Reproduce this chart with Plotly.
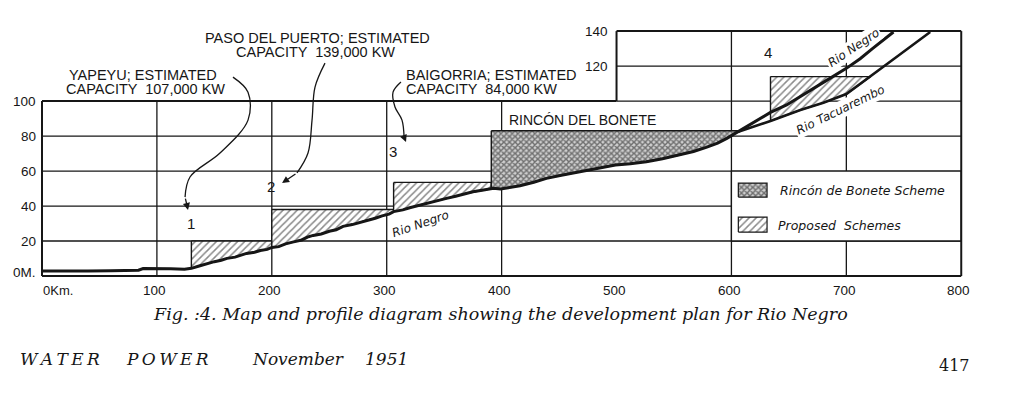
import numpy as np
import plotly.graph_objects as go

# ---------------- data ----------------
# Rio Negro longitudinal profile (distance in km, elevation in m)
negro_km = [0, 20, 40, 60, 84, 88, 100, 112, 124, 130, 136, 143, 150, 156, 161, 168, 173, 178, 185,
            190, 196, 200, 206, 212, 219, 226, 231, 236, 243, 250, 256, 262, 270, 276, 283, 290,
            296, 302, 306, 314, 320, 329, 337, 345, 352, 360, 368, 375, 383, 393, 399, 408, 416,
            428, 439, 452, 468, 484, 499, 512, 526, 540, 555, 567, 578, 588, 596, 606, 616, 634,
            648, 660, 680, 700, 712, 723, 733, 741]
negro_m = [2.8, 2.7, 2.8, 3.0, 3.3, 4.3, 4.4, 4.2, 3.9, 4.4, 5.6, 7.0, 8.2, 9.0, 10.1, 10.8, 12.0, 12.9, 13.6,
           14.6, 15.2, 16.3, 16.8, 18.4, 19.5, 20.6, 22.2, 23.2, 24.0, 25.6, 26.4, 28.4, 29.4, 30.4, 32.0, 33.0,
           34.4, 35.4, 36.8, 37.8, 39.0, 40.6, 41.8, 43.2, 44.4, 45.6, 47.0, 48.2, 49.0, 50.1, 49.7, 50.6, 51.6,
           53.6, 55.8, 57.6, 59.6, 61.6, 63.4, 64.2, 65.3, 67.0, 69.1, 71.2, 73.5, 76.0, 78.7, 82.5, 86.3, 93.5,
           97.8, 102.5, 110.7, 118.7, 124.2, 130.1, 135.2, 139.5]

# Rio Tacuarembo profile (branching off near 606 km)
tacua_km = [606, 620, 634, 660, 680, 700, 723, 746, 773]
tacua_m = [82.5, 85.5, 88.6, 94.9, 99.0, 104.0, 114.9, 126.3, 139.5]

# Proposed schemes 1-3 (start km, end km, headwater level m)
prop_start = [130, 200, 306]
prop_end = [200, 306, 391]
prop_level = [20, 38, 53.5]

# Rincon del Bonete scheme
rincon_start, rincon_end, rincon_level = 391, 606, 83

# Proposed scheme 4 (on the Tacuarembo branch)
s4_start, s4_level = 634, 114

# axes
x_ticks = [0, 100, 200, 300, 400, 500, 600, 700, 800]
x_tick_text = ["0Km.", "100", "200", "300", "400", "500", "600", "700", "800"]
y_ticks = [0, 20, 40, 60, 80, 100]
y_tick_text = ["0M.", "20", "40", "60", "80", "100"]
y_ticks_hi = [120, 140]

X_RANGE = [-1.74, 802.4]
Y_RANGE = [-1.14, 141.2]

INK = "#161616"
SANS = "Liberation Sans"
OBL = "DejaVu Sans"
SERIF = "DejaVu Serif"

fig = go.Figure()


def segment(x0, x1, xs, ys):
    xs = np.asarray(xs, float)
    ys = np.asarray(ys, float)
    inner = (xs > x0) & (xs < x1)
    px = [x0] + list(xs[inner]) + [x1]
    py = [float(np.interp(x0, xs, ys))] + list(ys[inner]) + [float(np.interp(x1, xs, ys))]
    return px, py


hatch = dict(shape="/", size=5, solidity=0.3, fgcolor=INK, bgcolor="white")
cross = dict(shape="x", size=4, solidity=0.6, fgcolor="#111111", bgcolor="#cfcfcf")

# proposed schemes 1-3
for s, e, lv in zip(prop_start, prop_end, prop_level):
    px, py = segment(s, e, negro_km, negro_m)
    xs = [s, e] + px[::-1] + [s]
    ys = [lv, lv] + py[::-1] + [lv]
    fig.add_trace(go.Scatter(x=xs, y=ys, mode="lines", fill="toself", fillcolor="white",
                             fillpattern=hatch, line=dict(color=INK, width=1.4),
                             showlegend=False, hoverinfo="skip"))

# Rincon del Bonete
px, py = segment(rincon_start, rincon_end, negro_km, negro_m)
xs = [rincon_start, rincon_end] + px[::-1] + [rincon_start]
ys = [rincon_level, rincon_level] + py[::-1] + [rincon_level]
fig.add_trace(go.Scatter(x=xs, y=ys, mode="lines", fill="toself", fillcolor="white",
                         fillpattern=cross, line=dict(color=INK, width=1.4),
                         showlegend=False, hoverinfo="skip"))

# scheme 4 bounded by Tacuarembo profile
s4_end = float(np.interp(s4_level, tacua_m, tacua_km))
px, py = segment(s4_start, s4_end, tacua_km, tacua_m)
xs = [s4_start, s4_end] + px[::-1] + [s4_start]
ys = [s4_level, s4_level] + py[::-1] + [s4_level]
fig.add_trace(go.Scatter(x=xs, y=ys, mode="lines", fill="toself", fillcolor="white",
                         fillpattern=hatch, line=dict(color=INK, width=1.4),
                         showlegend=False, hoverinfo="skip"))

# profiles
fig.add_trace(go.Scatter(x=negro_km, y=negro_m, mode="lines", line=dict(color=INK, width=3),
                         showlegend=False, hoverinfo="skip"))
fig.add_trace(go.Scatter(x=tacua_km, y=tacua_m, mode="lines",
                         line=dict(color=INK, width=2.6), showlegend=False, hoverinfo="skip"))

# ---------------- frame & grid ----------------
shapes = []
GL = dict(color=INK, width=1.3)
FR = dict(color=INK, width=2)
for v in [20, 40, 60, 80]:
    shapes.append(dict(type="line", x0=0, x1=800, y0=v, y1=v, line=GL, layer="below"))
for v in [100, 120]:
    shapes.append(dict(type="line", x0=500, x1=800, y0=v, y1=v, line=GL, layer="below"))
for v in [100, 200, 300, 400]:
    shapes.append(dict(type="line", x0=v, x1=v, y0=0, y1=100, line=GL, layer="below"))
for v in [600, 700]:
    shapes.append(dict(type="line", x0=v, x1=v, y0=0, y1=140, line=GL, layer="below"))
# legend box (covers grid)
shapes.append(dict(type="rect", x0=600, x1=800, y0=20, y1=60, fillcolor="white",
                   line=GL, layer="below"))
# stepped frame
frame_x = [0, 0, 500, 500, 800, 800, 0]
frame_y = [0, 100, 100, 140, 140, 0, 0]
for i in range(len(frame_x) - 1):
    shapes.append(dict(type="line", x0=frame_x[i], x1=frame_x[i + 1], y0=frame_y[i],
                       y1=frame_y[i + 1], line=FR, layer="below"))
fig.update_layout(shapes=shapes)

# legend swatches
for (y0, y1), pat in [((45.1, 53.1), cross), ((25.1, 33.7), hatch)]:
    fig.add_trace(go.Scatter(x=[606, 631, 631, 606, 606], y=[y0, y0, y1, y1, y0], mode="lines",
                             fill="toself", fillcolor="white", fillpattern=pat,
                             line=dict(color=INK, width=1.2), showlegend=False, hoverinfo="skip"))

# leader curves (annotation geometry)
leaders = [
    ([166.2, 179.3, 179.3, 154.9, 128.8, 124.5, 127.1], [113.7, 105.1, 89.1, 70.3, 56.6, 45.1, 37.7]),
    ([246.3, 237.6, 235.0, 231.5, 221.9, 208.9], [121.7, 108.0, 89.1, 70.3, 58.9, 53.1]),
    ([312.4, 305.5, 307.2, 313.3, 315.1, 316.8], [110.9, 105.1, 96.6, 89.1, 79.4, 76.6]),
]
anns = []
for lx, ly in leaders:
    fig.add_trace(go.Scatter(x=lx[:-1], y=ly[:-1], mode="lines", line=dict(color=INK, width=1.3,
                             shape="spline"), showlegend=False, hoverinfo="skip"))
    anns.append(dict(x=lx[-1], y=ly[-1], ax=lx[-2], ay=ly[-2], xref="x", yref="y", axref="x",
                     ayref="y", text="", showarrow=True, arrowhead=2, arrowsize=1.1,
                     arrowwidth=1.3, arrowcolor=INK))


def txt(x, y, s, size=14.5, family=SANS, xanchor="center", angle=0, bg=None):
    # positions given in data units, placed via paper coordinates so they show outside the range
    xp = (x - X_RANGE[0]) / (X_RANGE[1] - X_RANGE[0])
    yp = (y - Y_RANGE[0]) / (Y_RANGE[1] - Y_RANGE[0])
    d = dict(x=xp, y=yp, xref="paper", yref="paper", text=s, showarrow=False, xanchor=xanchor,
             yanchor="middle", textangle=angle, font=dict(family=family, size=size, color=INK))
    if bg:
        d["bgcolor"] = bg
    anns.append(d)


# tick labels
for v, t in zip(x_ticks, x_tick_text):
    if v == 0:
        txt(-1, -8, t, size=13, xanchor="left")
    else:
        txt(v - 2, -8, t, size=13.5)
for v, t in zip(y_ticks, y_tick_text):
    txt(-3.5, v + (2 if v == 0 else 0), t, size=13.5, xanchor="right")
for v in y_ticks_hi:
    txt(494, v, str(v), size=13.5, xanchor="right")

# scheme labels
txt(88.3, 114.9, "YAPEYU; ESTIMATED")
txt(90.5, 106.9, "CAPACITY  107,000 KW")
txt(239.8, 136.0, "PASO DEL PUERTO; ESTIMATED")
txt(237.6, 128.0, "CAPACITY  139,000 KW")
txt(315.0, 114.9, "BAIGORRIA; ESTIMATED", xanchor="left")
txt(315.0, 106.9, "CAPACITY  84,000 KW", xanchor="left")
txt(470.0, 89.1, "RINCÓN DEL BONETE", size=14)
txt(129.7, 30.3, "1", size=15)
txt(199.3, 50.9, "2", size=15)
txt(305.5, 70.9, "3", size=15)
txt(631.9, 128.0, "4", size=15)

# river labels
txt(329.0, 29.7, "<i>Rio Negro</i>", size=12, family=OBL, angle=-19)
txt(706.0, 130.5, "<i>Rio Negro</i>", size=12, family=OBL, angle=-34, bg="white")
txt(694.5, 95.0, "<i>Rio Tacuarembo</i>", size=12, family=OBL, angle=-26, bg="white")

# legend text
txt(640.6, 49.1, "<i>Rincón de Bonete Scheme</i>", size=12.5, family=OBL, xanchor="left")
txt(638.8, 29.1, "<i>Proposed  Schemes</i>", size=12.5, family=OBL, xanchor="left")

# caption & footer
txt(398.6, -21.7, "<i>Fig. :4. Map and profile diagram showing the development plan for Rio Negro</i>",
    size=17.5, family=SERIF)
TS = "\u2009"
txt(-20.9, -47.4, "<i>" + TS.join("WATER") + "</i>", size=17, family=SERIF, xanchor="left")
txt(71.4, -47.4, "<i>" + TS.join("POWER") + "</i>", size=17, family=SERIF, xanchor="left")
txt(181.0, -47.4, "<i>November</i>", size=17, family=SERIF, xanchor="left")
txt(279.4, -47.4, "<i>1951</i>", size=17, family=SERIF, xanchor="left")
txt(779.0, -51.4, "417", size=16, family=SERIF, xanchor="left")

fig.update_layout(
    annotations=anns,
    width=1012, height=394,
    margin=dict(l=40, r=48, t=29, b=116, autoexpand=False),
    paper_bgcolor="white", plot_bgcolor="white",
    xaxis=dict(range=X_RANGE, visible=False, showgrid=False, zeroline=False),
    yaxis=dict(range=Y_RANGE, visible=False, showgrid=False, zeroline=False),
    showlegend=False,
)

fig.write_html("out.html", config={"displayModeBar": False},
               post_script="document.body.style.margin='0';")
